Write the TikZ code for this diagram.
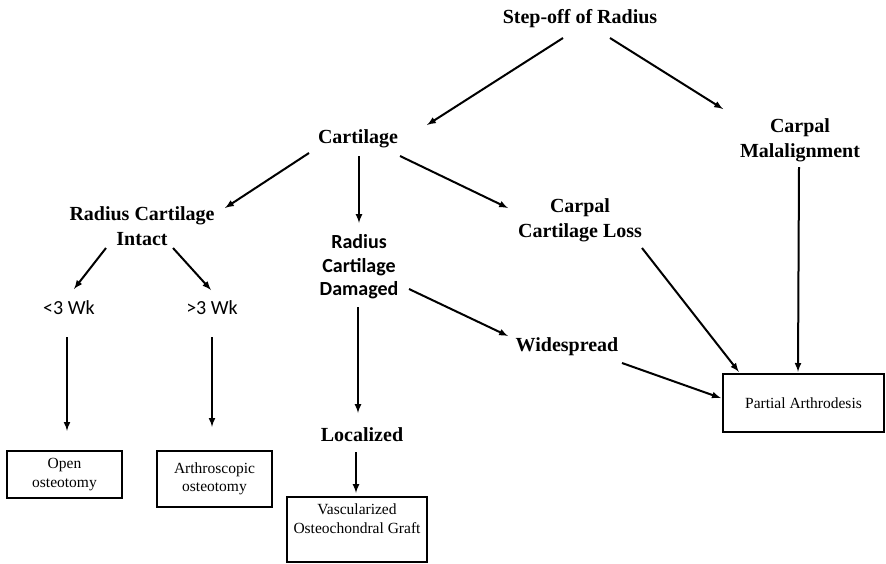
\documentclass[tikz,border=0pt]{standalone}
\usepackage{fontspec}
\setmainfont{Liberation Serif}
\newfontfamily\calibfont{Carlito}
\usetikzlibrary{shapes,arrows}

\begin{document}
\begin{tikzpicture}[x=1pt,y=-1pt]
		\tikzstyle{head} = [inner sep=0pt, align=center, font=\fontsize{20}{25}\selectfont\bfseries]
		\tikzstyle{sans head} = [head, font=\calibfont\fontsize{20}{23.5}\selectfont\bfseries]
		\tikzstyle{sans label} = [inner sep=0pt, font=\calibfont\fontsize{20}{24}\selectfont]
		\tikzstyle{result} = [draw, line width=2.4pt, align=center, inner sep=0pt, font=\fontsize{15.5}{18.5}\selectfont]
		\tikzstyle{flow line} = [-latex, line width=2pt]

		\useasboundingbox (0,0) rectangle (886,563);

		% headings
		\node[head] (step) at (580,19) {Step-off of Radius};
		\node[head] (cart) at (358,139) {Cartilage};
		\node[head] (cmal) at (800,140) {Carpal\\Malalignment};
		\node[head] (rci) at (142,226) {Radius Cartilage\\Intact};
		\node[sans head] (rcd) at (359,267) {Radius\\Cartilage\\Damaged};
		\node[head] (ccl) at (580,220) {Carpal\\Cartilage Loss};
		\node[sans label] (lt3) at (69,308) {<3 Wk};
		\node[sans label] (gt3) at (212,308) {>3 Wk};
		\node[head] (wide) at (567,347) {Widespread};
		\node[head] (local) at (362,435) {Localized};

		% treatments
		\node[result, minimum width=115, minimum height=47] (open) at (64.5,474.5) {Open\\osteotomy};
		\node[result, minimum width=115, minimum height=56] (arth) at (214.5,479) {Arthroscopic\\osteotomy};
		\node[result, minimum width=140, minimum height=65, anchor=north] (vasc) at (357,496) {};
		\node[result, draw=none, anchor=north] (vasctxt) at ([yshift=-7pt]vasc.north) {Vascularized\\Osteochondral Graft};
		\node[result, minimum width=161, minimum height=58] (pa) at (803.5,403) {Partial Arthrodesis};

		% arrows
		\draw[flow line] ([shift={(-17,19)}]step.center) -- ([shift={(69,-14)}]cart.center);
		\draw[flow line] ([shift={(30,19)}]step.center) -- ([shift={(-77,-31)}]cmal.center);
		\draw[flow line] ([shift={(-49,14)}]cart.center) -- ([shift={(83,-18)}]rci.center);
		\draw[flow line] ([shift={(1,17)}]cart.center) -- ([shift={(0,-44)}]rcd.center);
		\draw[flow line] ([shift={(42,17)}]cart.center) -- ([shift={(-72,-12)}]ccl.center);
		\draw[flow line] ([shift={(-36,22)}]rci.center) -- ([shift={(5,-19)}]lt3.center);
		\draw[flow line] ([shift={(31,22)}]rci.center) -- ([shift={(-1,-18)}]gt3.center);
		\draw[flow line] ([shift={(-2,29)}]lt3.center) -- ([shift={(2.5,-19)}]open.north);
		\draw[flow line] ([shift={(0,29)}]gt3.center) -- ([shift={(-2.5,-23)}]arth.north);
		\draw[flow line] ([shift={(50,22)}]rcd.center) -- ([shift={(-59,-11)}]wide.center);
		\draw[flow line] ([shift={(-1,40)}]rcd.center) -- ([shift={(-4,-22)}]local.center);
		\draw[flow line] ([shift={(-6,17)}]local.center) -- ([shift={(-1,-3)}]vasc.north);
		\draw[flow line] ([shift={(62,28)}]ccl.center) -- ([shift={(17,-1)}]pa.north west);
		\draw[flow line] ([shift={(-1,27)}]cmal.center) -- ([shift={(-5.5,-1)}]pa.north);
		\draw[flow line] ([shift={(55,16)}]wide.center) -- ([shift={(-1,-5)}]pa.west);
\end{tikzpicture}
\end{document}
